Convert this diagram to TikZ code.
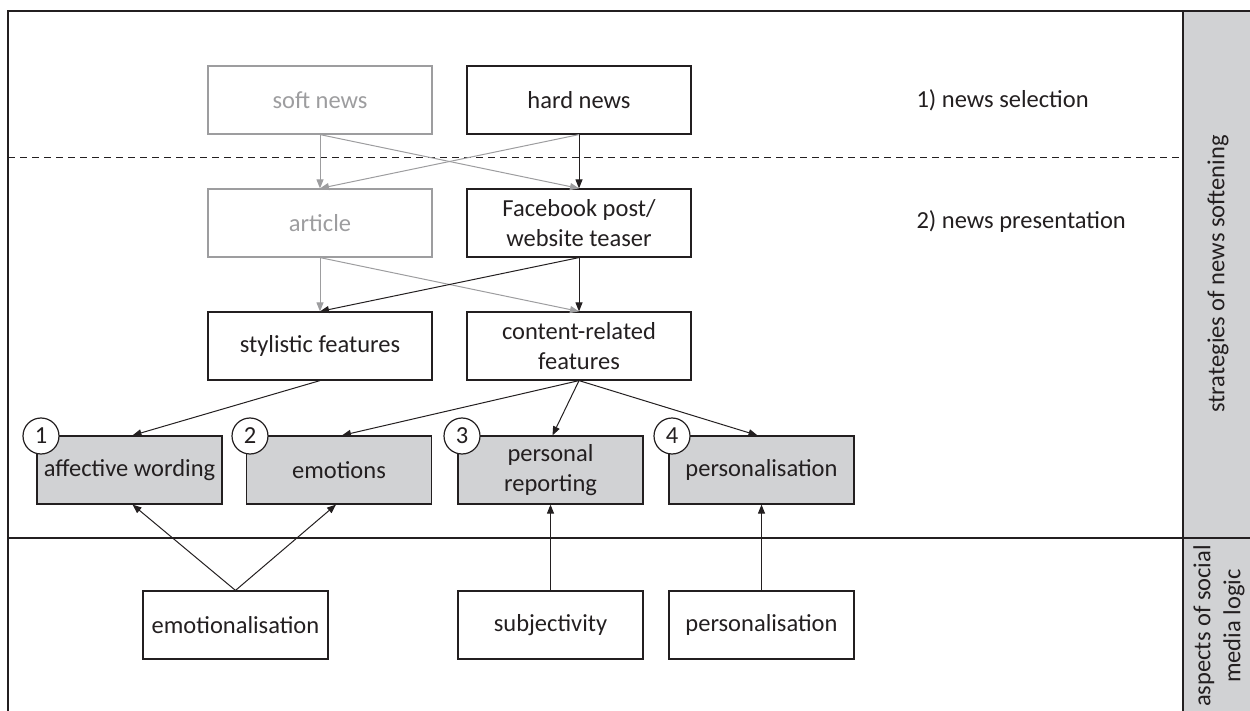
\documentclass[tikz,border=0pt]{standalone}
\usepackage{fontspec}
\setmainfont{Carlito}
\usetikzlibrary{arrows.meta}
\definecolor{softgray}{HTML}{9D9D9F}
\definecolor{fillgray}{HTML}{D1D2D4}
\definecolor{ink}{HTML}{231F20}
\begin{document}
\begin{tikzpicture}[x=1pt,y=-1pt,
  txt/.style={font=\fontsize{24.5}{30}\selectfont, text=ink},
  box/.style={txt, draw=ink, line width=1.2pt, minimum width=224pt, minimum height=68pt, align=center, inner sep=0pt},
  softbox/.style={box, draw=softgray, text=softgray},
  graybox/.style={box, fill=fillgray, minimum width=185pt},
  num/.style={txt, circle, draw=ink, fill=white, line width=1.2pt, minimum size=36pt, inner sep=0pt},
  arr/.style={draw=ink, line width=1pt, -{Triangle[length=9pt,width=7pt]}},
  softarr/.style={arr, draw=softgray, -{Triangle[length=9pt,width=7pt,color=softgray]}},
  frame/.style={draw=ink, line width=1.3pt}]
\useasboundingbox (0,0) rectangle (1250,711);
% side column
\fill[fillgray] (1183,11) rectangle (1250,711);
\draw[frame] (8,711) -- (8,11) -- (1250,11);
\draw[frame] (1183,11) -- (1183,711);
\draw[frame] (8,538) -- (1250,538);
\draw[draw=ink, line width=1pt, dash pattern=on 7pt off 5pt] (8,158) -- (1183,158);
% labels
\node[txt, anchor=west] (sel) at (913,100) {1) news selection};
\node[txt, anchor=west] (pres) at (913,222) {2) news presentation};
\node[txt, rotate=90] (strat) at (1218,274) {strategies of news softening};
\node[txt, rotate=90, align=center] (aspects) at (1219,626) {aspects of social\\media logic};
% boxes
\node[softbox] (soft) at (320,100) {soft news};
\node[box] (hard) at (579,100) {hard news};
\node[softbox] (article) at (320,223) {article};
\node[box] (fb) at (579,223) {Facebook post/\\website teaser};
\node[box] (styl) at (320,346) {stylistic features};
\node[box] (cont) at (579,346) {content-related\\features};
\node[graybox] (aw) at (129.5,470) {affective wording};
\node[graybox] (emo) at (339,470) {emotions};
\node[graybox] (pr) at (550.5,470) {personal\\reporting};
\node[graybox] (pers) at (761.5,470) {personalisation};
\node[box, minimum width=185pt] (emot) at (235.5,625) {emotionalisation};
\node[box, minimum width=185pt] (subj) at (550.5,625) {subjectivity};
\node[box, minimum width=185pt] (pers2) at (761.5,625) {personalisation};
% numbers
\node[num] (n1) at (41,436) {1};
\node[num] (n2) at (250,436) {2};
\node[num] (n3) at (462,436) {3};
\node[num] (n4) at (672,436) {4};
% soft arrows
\draw[softarr] (soft.south) -- (article.north);
\draw[softarr] (soft.south) -- (fb.north);
\draw[softarr] (hard.south) -- (article.north);
\draw[softarr] (article.south) -- (styl.north);
\draw[softarr] (article.south) -- (cont.north);
% black arrows
\draw[arr] (hard.south) -- (fb.north);
\draw[arr] (fb.south) -- (styl.north);
\draw[arr] (fb.south) -- (cont.north);
\draw[arr] (styl.south) -- ([xshift=3pt]aw.north);
\draw[arr] (cont.south) -- ([xshift=3pt]emo.north);
\draw[arr] (cont.south) -- ([xshift=2pt]pr.north);
\draw[arr] (cont.south) -- ([xshift=-4pt]pers.north);
\draw[arr] (emot.north) -- ([xshift=3pt]aw.south);
\draw[arr] (emot.north) -- ([xshift=-3pt]emo.south);
\draw[arr] (subj.north) -- (pr.south);
\draw[arr] (pers2.north) -- (pers.south);
\end{tikzpicture}
\end{document}
